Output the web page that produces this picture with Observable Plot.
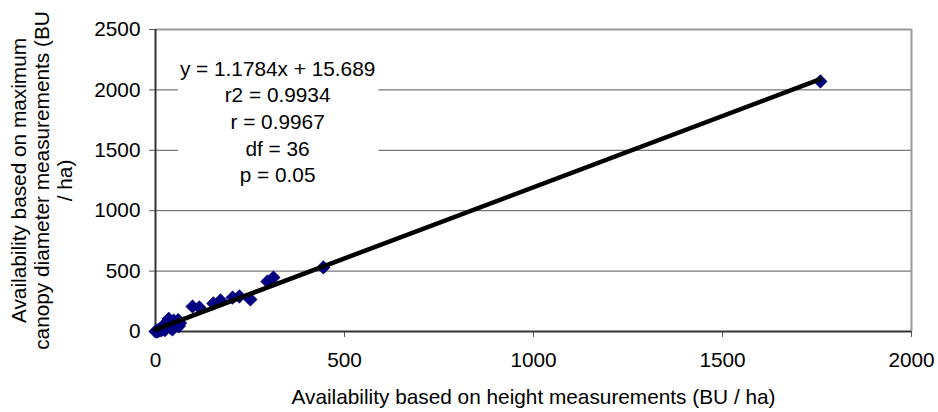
<!DOCTYPE html>
<html>
<head>
<meta charset="utf-8">
<script src="https://cdn.jsdelivr.net/npm/d3@7"></script>
<script src="https://cdn.jsdelivr.net/npm/@observablehq/plot@0.6"></script>
<style>
  html, body { margin: 0; padding: 0; background: #fff; }
  #chart { width: 938px; height: 412px; }
  svg { font-family: "Liberation Sans", Arial, sans-serif; }
</style>
</head>
<body>
<div id="chart"></div>
<script>
// Availability based on height measurements (BU / ha)
const heightVals = [0, 2, 4, 5, 8, 10, 12, 15, 18, 20, 22, 25, 28, 30, 32, 35, 38, 40, 42, 45, 48, 50, 55, 58, 60, 62, 65,
  98, 116, 153, 172, 204, 222, 251, 296, 312, 444, 1759];
// Availability based on maximum canopy diameter measurements (BU / ha)
const canopyVals = [0, 3, 1, 8, 4, 15, 20, 10, 30, 45, 25, 12, 60, 40, 85, 105, 70, 30, 55, 18, 90, 40, 60, 80, 95, 45, 70,
  207, 199, 232, 257, 281, 290, 265, 414, 447, 530, 2070];
const slope = 1.1784;
const intercept = 15.689;
const statLines = ["y = 1.1784x + 15.689", "r2 = 0.9934", "r = 0.9967", "df = 36", "p = 0.05"];
const xTicks = [0, 500, 1000, 1500, 2000];
const yTicks = [0, 500, 1000, 1500, 2000, 2500];
const xTitle = "Availability based on height measurements (BU / ha)";
const yTitle = ["Availability based on maximum", "canopy diameter measurements (BU", "/ ha)"];

const points = heightVals.map((h, i) => ({x: h, y: canopyVals[i]}));
const xMin = d3.min(heightVals), xMax = d3.max(heightVals);
const trend = [xMin, xMax].map(x => ({x, y: slope * x + intercept}));

const FS = 20.8;
const chart = Plot.plot({
  width: 938,
  height: 412,
  marginLeft: 155,
  marginRight: 27,
  marginTop: 29,
  marginBottom: 81,
  style: {fontSize: FS + "px", fontFamily: "'Liberation Sans', Arial, sans-serif", color: "#000", background: "#fff", overflow: "visible"},
  x: {domain: [0, 2000]},
  y: {domain: [0, 2500]},
  marks: [
    Plot.gridY(yTicks.filter(d => d < 2500), {stroke: "#555", strokeOpacity: 1, strokeWidth: 1}),
    Plot.axisY(yTicks, {tickSize: 6, tickPadding: 9, stroke: "#555", label: null, fontSize: FS, tickFormat: d => String(d)}),
    Plot.axisX(xTicks, {tickSize: 6, tickPadding: 15, stroke: "#555", label: null, fontSize: FS, tickFormat: d => String(d)}),
    // white text box behind regression statistics
    Plot.rect([0], {x1: 61, x2: 591, y1: 1185, y2: 2310, fill: "white"}),
    // plot area border (top, right)
    Plot.ruleY([2500], {stroke: "#999", strokeWidth: 2}),
    Plot.ruleX([2000], {stroke: "#999", strokeWidth: 2}),
    // axes lines
    Plot.ruleX([0], {stroke: "#333", strokeWidth: 2}),
    Plot.ruleY([0], {stroke: "#333", strokeWidth: 2}),
    Plot.dot(points, {x: "x", y: "y", symbol: "diamond2", r: 6.4, fill: "#000080", stroke: "none"}),
    Plot.line(trend, {x: "x", y: "y", stroke: "#000", strokeWidth: 4.5}),
    Plot.text([statLines.join("\n")], {x: 323, y: 1747, text: d => d, textAnchor: "middle", lineAnchor: "middle", lineHeight: 1.28, fontSize: FS, fill: "#000"}),
    Plot.text([xTitle], {frameAnchor: "bottom", dy: 66, lineAnchor: "middle", fontSize: FS, fill: "#000"}),
    Plot.text([yTitle.join("\n")], {frameAnchor: "left", dx: -114, rotate: -90, lineAnchor: "middle", textAnchor: "middle", lineHeight: 1.11, fontSize: FS, fill: "#000"})
  ]
});
document.getElementById("chart").appendChild(chart);
</script>
</body>
</html>
